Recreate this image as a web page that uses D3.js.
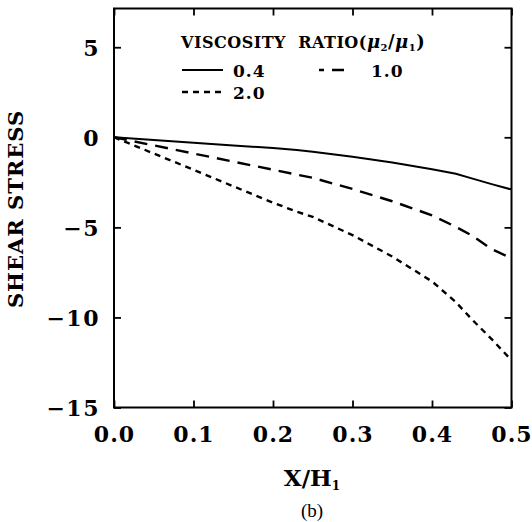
<!DOCTYPE html>
<html>
<head>
<meta charset="utf-8">
<script src="https://cdn.jsdelivr.net/npm/d3@7"></script>
<style>
  html, body { margin: 0; padding: 0; background: #fff; }
  svg { display: block; }
  .lbl { font-family: "DejaVu Serif", serif; font-weight: bold; fill: #000; }
</style>
</head>
<body>
<svg id="chart" width="532" height="522"></svg>
<script>
// Dimensionless position along the interface
const xPos = [0, 0.05, 0.1, 0.15, 0.2, 0.23, 0.25, 0.3, 0.35, 0.4, 0.43, 0.45, 0.475, 0.5];
// Shear stress for each viscosity ratio (mu2/mu1)
const ratio04 = [0, -0.15, -0.3, -0.45, -0.6, -0.7, -0.8, -1.08, -1.4, -1.77, -2.02, -2.28, -2.6, -2.9];
const ratio10 = [0, -0.45, -0.9, -1.35, -1.8, -2.07, -2.25, -2.87, -3.55, -4.33, -4.97, -5.45, -6.2, -6.72];
const ratio20 = [0, -0.9, -1.8, -2.72, -3.63, -4.13, -4.42, -5.43, -6.62, -8.0, -9.15, -10.1, -11.2, -12.38];
const seriesNames = ["0.4", "1.0", "2.0"];
const xTicks = [0, 0.1, 0.2, 0.3, 0.4, 0.5];
const yTicks = [5, 0, -5, -10, -15];

const svg = d3.select("#chart");
const plotL = 114, plotR = 511.5, plotT = 8.5, plotB = 407.5;

const x = d3.scaleLinear().domain([0, 0.5]).range([plotL, plotR]);
const y = d3.scaleLinear().domain([-15, 7.15]).range([plotB, plotT]);

const tickLen = 7;

// Bottom axis: inward ticks, labels below
const gB = svg.append("g").attr("transform", `translate(0,${plotB})`)
  .call(d3.axisBottom(x).tickValues(xTicks).tickSizeInner(-tickLen).tickSizeOuter(0)
    .tickFormat(d3.format(".1f")));
gB.select(".domain").remove();
gB.selectAll("line").attr("stroke", "#000").attr("stroke-width", 1.8);
gB.selectAll("text").attr("class", "lbl").attr("y", 34.5).attr("dy", 0)
  .attr("font-size", 22).attr("letter-spacing", 1).attr("fill", "#000");

// Top axis: inward ticks only
const gT = svg.append("g").attr("transform", `translate(0,${plotT})`)
  .call(d3.axisTop(x).tickValues(xTicks).tickSizeInner(-tickLen).tickSizeOuter(0).tickFormat(""));
gT.select(".domain").remove();
gT.selectAll("line").attr("stroke", "#000").attr("stroke-width", 1.8);

// Left axis: inward ticks, labels on the left
const fmtY = d => d < 0 ? "\u2212" + Math.abs(d) : String(d);
const gL = svg.append("g").attr("transform", `translate(${plotL},0)`)
  .call(d3.axisLeft(y).tickValues(yTicks).tickSizeInner(-tickLen).tickSizeOuter(0).tickFormat(fmtY));
gL.select(".domain").remove();
gL.selectAll("line").attr("stroke", "#000").attr("stroke-width", 1.8);
gL.selectAll("text").attr("class", "lbl").attr("x", -14).attr("dy", "0.36em")
  .attr("font-size", 22).attr("letter-spacing", 1.5).attr("fill", "#000");

// Right axis: inward ticks only
const gR = svg.append("g").attr("transform", `translate(${plotR},0)`)
  .call(d3.axisRight(y).tickValues(yTicks).tickSizeInner(-tickLen).tickSizeOuter(0).tickFormat(""));
gR.select(".domain").remove();
gR.selectAll("line").attr("stroke", "#000").attr("stroke-width", 1.8);

// Frame
svg.append("rect")
  .attr("x", plotL).attr("y", plotT)
  .attr("width", plotR - plotL).attr("height", plotB - plotT)
  .attr("fill", "none").attr("stroke", "#000").attr("stroke-width", 2);

// Curves
const styles = [
  { values: ratio04, dash: null, width: 2 },
  { values: ratio10, dash: "13,8", width: 2.4 },
  { values: ratio20, dash: "6,5", width: 2.4 }
];
const line = d3.line().x(d => x(d[0])).y(d => y(d[1]));

svg.append("defs").append("clipPath").attr("id", "plotClip")
  .append("rect").attr("x", plotL).attr("y", plotT)
  .attr("width", plotR - plotL).attr("height", plotB - plotT);

const gC = svg.append("g").attr("clip-path", "url(#plotClip)");
styles.forEach(s => {
  gC.append("path")
    .datum(xPos.map((xv, i) => [xv, s.values[i]]))
    .attr("d", line)
    .attr("fill", "none")
    .attr("stroke", "#000")
    .attr("stroke-width", s.width)
    .attr("stroke-dasharray", s.dash);
});

// Legend
const legTitle = svg.append("text").attr("class", "lbl")
  .attr("x", 181).attr("y", 48).attr("font-size", 16).attr("letter-spacing", 0.5);
legTitle.append("tspan").text("VISCOSITY\u00a0\u00a0RATIO(");
legTitle.append("tspan").attr("font-style", "italic").attr("font-size", 18).text("\u03bc");
legTitle.append("tspan").attr("font-size", 10).attr("dy", 3).text("2");
legTitle.append("tspan").attr("dy", -3).attr("font-size", 18).text("/");
legTitle.append("tspan").attr("font-style", "italic").attr("font-size", 18).text("\u03bc");
legTitle.append("tspan").attr("font-size", 10).attr("dy", 3).text("1");
legTitle.append("tspan").attr("dy", -3).attr("font-size", 18).text(")");

const legItems = [
  { x1: 182, x2: 223, ly: 70, tx: 233, ty: 76.5, dash: null, offset: 0, w: 2 },
  { x1: 319, x2: 345, ly: 70, tx: 371, ty: 76.5, dash: "12,8", offset: 7, w: 2.4 },
  { x1: 182, x2: 223, ly: 92, tx: 233, ty: 98.5, dash: "6,5", offset: 0, w: 2.4 }
];
legItems.forEach((it, i) => {
  svg.append("line")
    .attr("x1", it.x1).attr("x2", it.x2).attr("y1", it.ly).attr("y2", it.ly)
    .attr("stroke", "#000").attr("stroke-width", it.w)
    .attr("stroke-dasharray", it.dash).attr("stroke-dashoffset", it.offset);
  svg.append("text").attr("class", "lbl")
    .attr("x", it.tx).attr("y", it.ty).attr("font-size", 17).attr("letter-spacing", 1)
    .text(seriesNames[i]);
});

// Axis titles
svg.append("text").attr("class", "lbl")
  .attr("transform", "translate(23,209) rotate(-90)")
  .attr("text-anchor", "middle").attr("font-size", 21).attr("letter-spacing", 1)
  .text("SHEAR STRESS");

const xTitle = svg.append("text").attr("class", "lbl")
  .attr("x", 312).attr("y", 486).attr("text-anchor", "middle").attr("font-size", 23);
xTitle.append("tspan").text("X/H");
xTitle.append("tspan").attr("font-size", 12).attr("dy", 4).text("1");

svg.append("text")
  .attr("x", 312).attr("y", 517).attr("text-anchor", "middle")
  .attr("font-family", "Liberation Serif, serif").attr("font-size", 19).attr("fill", "#000")
  .text("(b)");
</script>
</body>
</html>
